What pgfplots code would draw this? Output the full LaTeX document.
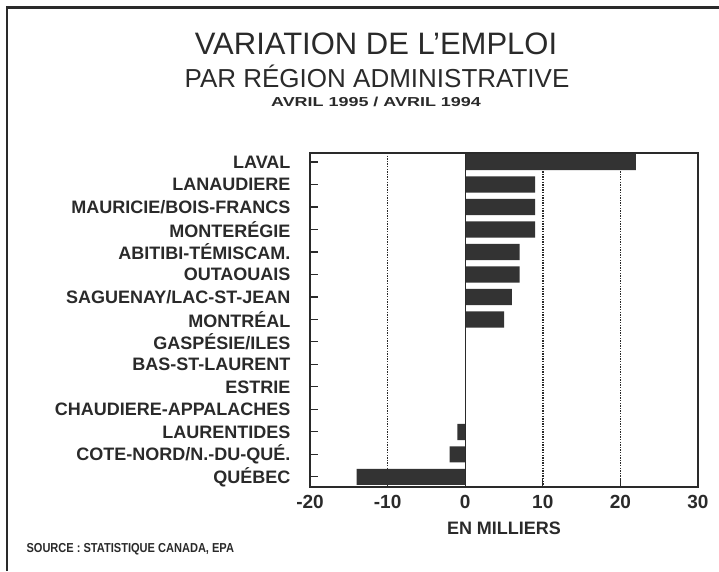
\documentclass[border=0pt]{standalone}
\usepackage{fontspec}
\setmainfont{Liberation Sans}
\usepackage{pgfplots}
\pgfplotsset{compat=1.18}
\definecolor{barcol}{HTML}{333333}
\definecolor{ink}{HTML}{2A2A2A}
\begin{document}
\begin{tikzpicture}
\useasboundingbox (0,0) rectangle (719pt,-571pt);
\draw[ink, line width=2.5pt] (7pt,-571pt) -- (7pt,-7.5pt) -- (719pt,-7.5pt);
\node[ink, font=\fontsize{31}{31}\selectfont] at (376pt,-44pt) {VARIATION DE L'EMPLOI};
\node[ink, font=\fontsize{26}{26}\selectfont] at (377pt,-76pt) {PAR RÉGION ADMINISTRATIVE};
\node[ink, font=\bfseries\fontsize{13}{13}\selectfont] at (376pt,-102pt) {\scalebox{1.38}[1]{AVRIL 1995 / AVRIL 1994}};
\begin{axis}[
  at={(310pt,-487pt)}, anchor=south west,
  scale only axis, width=388pt, height=334pt,
  xmin=-20, xmax=30, ymin=-0.4, ymax=14.45,
  y dir=reverse,
  xbar, bar width=0.72,
  axis line style={ink, line width=1.6pt},
  ytick={0,...,14},
  yticklabels={LAVAL,LANAUDIERE,MAURICIE/BOIS-FRANCS,MONTERÉGIE,ABITIBI-TÉMISCAM.,OUTAOUAIS,SAGUENAY/LAC-ST-JEAN,MONTRÉAL,GASPÉSIE/ILES,BAS-ST-LAURENT,ESTRIE,CHAUDIERE-APPALACHES,LAURENTIDES,COTE-NORD/N.-DU-QUÉ.,QUÉBEC},
  yticklabel style={ink, font=\bfseries\fontsize{18}{18}\selectfont, xshift=-16pt},
  xtick={-20,-10,0,10,20,30},
  xticklabels={-20,-10,0,10,20,30},
  xticklabel style={ink, font=\bfseries\fontsize{19}{19}\selectfont, yshift=-5pt},
  tick align=inside, ytick pos=left, xtick pos=bottom,
  major tick length=8pt,
  tick style={ink, line width=1.1pt},
  extra x ticks={-10,10,20},
  extra x tick labels={},
  extra x tick style={grid=major, major grid style={ink, line width=1.6pt, dash pattern=on 1.3pt off 1.3pt}},
  clip=false,
]
\addplot[draw=none, fill=barcol] coordinates {
(22,0) (9,1) (9,2) (9,3) (7,4) (7,5) (6,6) (5,7)
(0,8) (0,9) (0,10) (0,11) (-1,12) (-2,13) (-14,14)
};
\draw[ink, line width=1.4pt] (axis cs:0,-0.4) -- (axis cs:0,14.45);
\end{axis}
\node[ink, font=\bfseries\fontsize{18}{18}\selectfont] at (504pt,-528pt) {EN MILLIERS};
\node[ink, font=\bfseries\fontsize{13}{13}\selectfont, anchor=west] at (23pt,-549pt) {\scalebox{0.85}[1]{SOURCE : STATISTIQUE CANADA, EPA}};
\end{tikzpicture}
\end{document}
